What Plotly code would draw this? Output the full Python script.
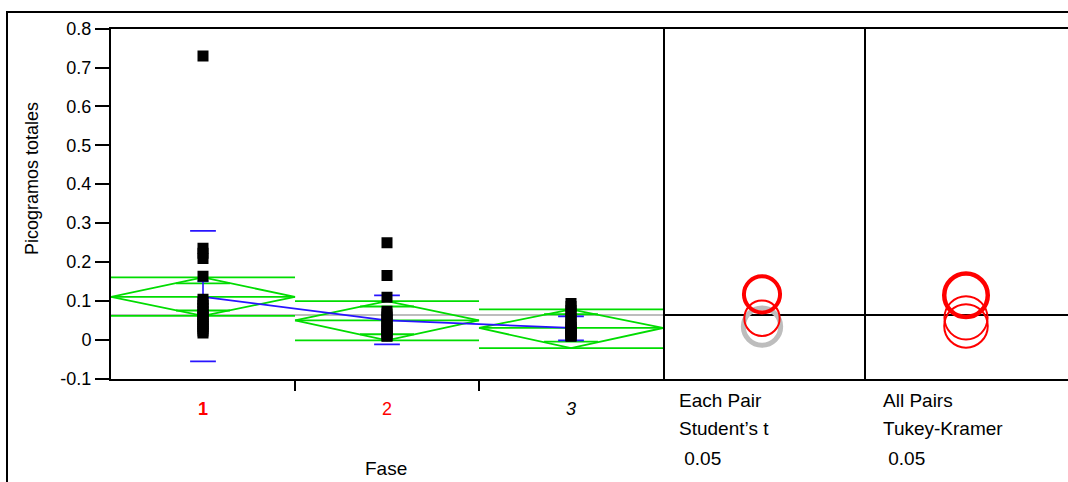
import numpy as np
import plotly.graph_objects as go

# ---------------- data ----------------
fase_labels = ["1", "2", "3"]
fase1 = [0.730, 0.235, 0.222, 0.209, 0.163, 0.104, 0.096, 0.088, 0.080, 0.072,
         0.064, 0.058, 0.052, 0.046, 0.040, 0.034, 0.028, 0.022, 0.017]
fase2 = [0.249, 0.165, 0.109, 0.073, 0.066, 0.058, 0.050, 0.043, 0.036, 0.029,
         0.022, 0.016, 0.010, 0.009]
fase3 = [0.093, 0.085, 0.075, 0.065, 0.055, 0.045, 0.038, 0.032, 0.027, 0.022,
         0.018, 0.015, 0.012, 0.010, 0.009]
means = [0.110, 0.0495, 0.030]
ci_lower = [0.061, -0.002, -0.022]
ci_upper = [0.160, 0.099, 0.078]
sd_lower = [-0.056, -0.012, -0.002]
sd_upper = [0.280, 0.114, 0.060]
se = [0.040, 0.015, 0.009]
grand_mean = 0.0635
student_centers = [0.1165, 0.055, 0.0335]
student_radii = [0.0465, 0.0455, 0.048]
tukey_centers = [0.114, 0.056, 0.0353]
tukey_radii = [0.056, 0.0555, 0.056]
y_ticks = [-0.1, 0, 0.1, 0.2, 0.3, 0.4, 0.5, 0.6, 0.7, 0.8]
y_tick_labels = ["-0.1", "0", "0.1", "0.2", "0.3", "0.4", "0.5", "0.6", "0.7", "0.8"]
panel_texts_student = ["Each Pair", "Student’s t", " 0.05"]
panel_texts_tukey = ["All Pairs", "Tukey-Kramer", " 0.05"]

# ---------------- layout constants (pixels) ----------------
W, H = 1068, 482
PL, PR, P2R = 111, 663, 866
PT, PB = 28.7, 378.5
FONT = "Liberation Sans, Arial, sans-serif"
GREEN = "rgb(0,220,0)"
BLUE = "rgb(40,20,255)"
RED = "#ff0000"
GRAY = "#bdbdbd"


def px_x(p):
    return p / W


def px_y(p):
    return 1 - p / H


y_range = [-0.1, 0.8]
px_per_unit = (PB - PT) / (y_range[1] - y_range[0])

fig = go.Figure()

groups_pts = [fase1, fase2, fase3]
centers = [i + 0.5 for i in range(len(fase_labels))]

# green means diamonds
gx, gy = [], []
k = 1 / np.sqrt(2)
for c, m, lo, hi in zip(centers, means, ci_lower, ci_upper):
    for yv in (hi, m, lo):
        gx += [c - 0.5, c + 0.5, None]
        gy += [yv, yv, None]
    gx += [c - 0.5, c, c + 0.5, c, c - 0.5, None]
    gy += [m, hi, m, lo, m, None]
    half = (hi - lo) / 2
    w = 0.5 * (1 - k)
    for yv in (m + half * k, m - half * k):
        gx += [c - w, c + w, None]
        gy += [yv, yv, None]
fig.add_trace(go.Scatter(x=gx, y=gy, mode="lines", line=dict(color=GREEN, width=1.8),
                         hoverinfo="skip", showlegend=False))

# blue std dev lines
bx, by = [], []
for c, lo, hi in zip(centers, sd_lower, sd_upper):
    for yv in (lo, hi):
        bx += [c - 0.07, c + 0.07, None]
        by += [yv, yv, None]
fig.add_trace(go.Scatter(x=bx, y=by, mode="lines", line=dict(color=BLUE, width=1.8),
                         hoverinfo="skip", showlegend=False))

# connect means + mean error bars
fig.add_trace(go.Scatter(x=centers, y=means, mode="lines", line=dict(color=BLUE, width=1.8),
                         error_y=dict(type="data", array=se, color=BLUE, thickness=1.6, width=5.5),
                         hoverinfo="skip", showlegend=False))

# points
for c, pts in zip(centers, groups_pts):
    fig.add_trace(go.Scatter(x=[c] * len(pts), y=pts, mode="markers",
                             marker=dict(symbol="square", size=11, color="black",
                                         line=dict(width=0)),
                             showlegend=False))

# ---------------- axes ----------------
ydom = [px_y(PB), px_y(PT)]
tick_styles = ['<span style="color:#ff0000"><b>{}</b></span>',
               '<span style="color:#ff0000">{}</span>',
               '<i>{}</i>']
common = dict(automargin=False, showgrid=False, zeroline=False, linecolor="black",
              linewidth=2)
fig.update_layout(
    template="none",
    width=W, height=H, margin=dict(l=0, r=0, t=0, b=0, pad=0, autoexpand=False),
    paper_bgcolor="white", plot_bgcolor="white",
    font=dict(family=FONT, color="black"),
    xaxis=dict(domain=[px_x(PL), px_x(PR)], range=[0, 3], anchor="y",
               tickvals=centers,
               ticktext=[s.format(t) for s, t in zip(tick_styles, fase_labels)],
               ticks="", tickfont=dict(size=18, family=FONT, color="black"),
               ticklabelstandoff=13,
               minor=dict(tickvals=[1, 2], ticks="outside", ticklen=10, tickwidth=2,
                          tickcolor="black", showgrid=False),
               showline=True, mirror=True, **common),
    yaxis=dict(domain=ydom, range=y_range, anchor="x",
               tickvals=y_ticks, ticktext=y_tick_labels,
               ticks="outside", ticklen=14, tickwidth=2, tickcolor="black",
               tickfont=dict(size=18, family=FONT, color="black"),
               showline=True, mirror=True, **common),
)

left2 = 99 / px_per_unit
w2 = (P2R - PR) / px_per_unit
left3 = 100 / px_per_unit
w3 = (W - P2R) / px_per_unit
fig.update_layout(
    xaxis2=dict(domain=[px_x(PR), px_x(P2R)], range=[-left2, w2 - left2], anchor="y2",
                showticklabels=False, ticks="", showline=True, mirror=True, **common),
    yaxis2=dict(domain=ydom, range=y_range, anchor="x2", showticklabels=False, ticks="",
                showline=False, **common),
    xaxis3=dict(domain=[px_x(P2R), 1], range=[-left3, w3 - left3], anchor="y3",
                showticklabels=False, ticks="", showline=True, mirror=True, **common),
    yaxis3=dict(domain=ydom, range=y_range, anchor="x3", showticklabels=False, ticks="",
                showline=True, mirror=False, **common),
)
# invisible traces to activate the panel axes
fig.add_trace(go.Scatter(x=[0], y=[grand_mean], xaxis="x2", yaxis="y2", mode="markers",
                         marker=dict(opacity=0), hoverinfo="skip", showlegend=False))
fig.add_trace(go.Scatter(x=[0], y=[grand_mean], xaxis="x3", yaxis="y3", mode="markers",
                         marker=dict(opacity=0), hoverinfo="skip", showlegend=False))

shapes = []
# grand mean line in main plot
shapes.append(dict(type="line", xref="x domain", yref="y", x0=0, x1=1,
                   y0=grand_mean, y1=grand_mean, line=dict(color=GRAY, width=2),
                   layer="below"))
# grand mean line in circle panels
for xr, yr in (("x2 domain", "y2"), ("x3 domain", "y3")):
    shapes.append(dict(type="line", xref=xr, yref=yr, x0=0, x1=1,
                       y0=grand_mean, y1=grand_mean, line=dict(color="black", width=2)))

# comparison circles: Student's t
student_styles = [(RED, 4), (RED, 2), (GRAY, 5)]
order = [2, 1, 0]
for i in order:
    col, lw = student_styles[i]
    c, r = student_centers[i], student_radii[i]
    shapes.append(dict(type="circle", xref="x2", yref="y2", x0=-r, x1=r,
                       y0=c - r, y1=c + r, line=dict(color=col, width=lw)))
tukey_styles = [(RED, 4.5), (RED, 2), (RED, 2)]
for i in order:
    col, lw = tukey_styles[i]
    c, r = tukey_centers[i], tukey_radii[i]
    shapes.append(dict(type="circle", xref="x3", yref="y3", x0=-r, x1=r,
                       y0=c - r, y1=c + r, line=dict(color=col, width=lw)))

# outer frame
shapes.append(dict(type="rect", xref="paper", yref="paper", x0=px_x(7), x1=1.02,
                   y0=-0.02, y1=px_y(12), line=dict(color="black", width=2)))
fig.update_layout(shapes=shapes)

ann = []
ann.append(dict(text="Picogramos totales", x=px_x(31.5), y=px_y(178.5), xref="paper",
                yref="paper", textangle=-90, showarrow=False, xanchor="center",
                yanchor="middle", font=dict(size=18, family=FONT, color="black")))
ann.append(dict(text="Fase", x=px_x(386), y=px_y(468), xref="paper", yref="paper",
                showarrow=False, xanchor="center", yanchor="middle",
                font=dict(size=19, family=FONT, color="black")))
rows_y = [400, 428, 458]
for texts, xl in ((panel_texts_student, 677), (panel_texts_tukey, 881)):
    for t, yy in zip(texts, rows_y):
        ann.append(dict(text=t, x=px_x(xl), y=px_y(yy), xref="paper", yref="paper",
                        xanchor="left", yanchor="middle", showarrow=False,
                        font=dict(size=19, family=FONT, color="black")))
fig.update_layout(annotations=ann)

post = ("document.documentElement.style.margin='0px';"
        "document.body.style.margin='0px';"
        "document.body.style.overflow='hidden';"
        "var gd=document.getElementById('{plot_id}');"
        "gd.style.position='absolute';gd.style.left='0px';gd.style.top='0px';")
fig.write_html("out.html", config={"displayModeBar": False}, post_script=post)
